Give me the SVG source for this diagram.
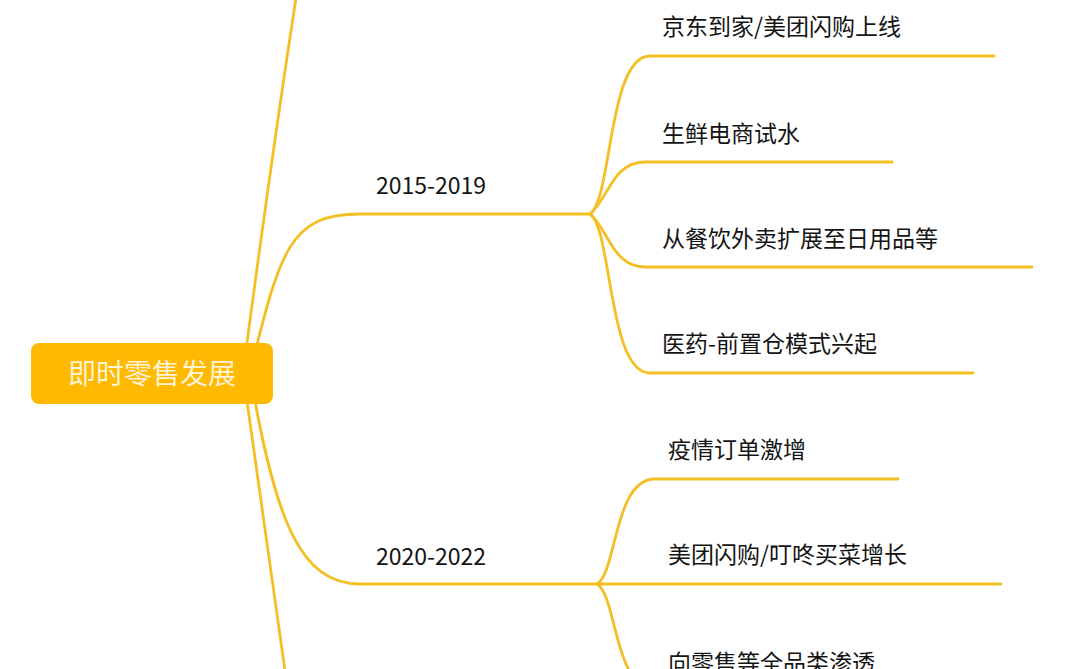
<svg xmlns="http://www.w3.org/2000/svg" width="1080" height="669" viewBox="0 0 1080 669">
<style>
.c{fill:none;stroke:#F4BF22;stroke-width:2.8;stroke-linecap:round}
.t{font-family:"Noto Sans CJK SC","Noto Sans",sans-serif;font-size:23px;fill:#141414}
.r{font-family:"Noto Sans CJK SC","Noto Sans",sans-serif;font-size:28px;fill:#FFF3D6}
</style>
<rect width="1080" height="669" fill="#FFFFFF"/>
<g id="connectors">
<path class="c" d="M243 373 C250 320 275 130 305 -60"/>
<path class="c" d="M243 373 C255 460 275 600 292 720"/>
<path class="c" d="M250 373 C280 250 290 214 360 214 L590 214"/>
<path class="c" d="M250 373 C275 520 300 584 360 584 L597 584"/>
<path class="c" d="M590 214 C612 200 608 56 650 56 L994 56"/>
<path class="c" d="M590 214 C608 200 612 162 645 162 L892 162"/>
<path class="c" d="M590 214 C608 228 612 267 645 267 L1032 267"/>
<path class="c" d="M590 214 C612 228 608 373 650 373 L973 373"/>
<path class="c" d="M597 584 C617 572 614 479 655 479 L898 479"/>
<path class="c" d="M597 584 L1001 584"/>
<path class="c" d="M597 584 C617 596 614 689 655 689 L900 689"/>
</g>
<g id="root">
<rect x="31" y="343" width="242" height="61" rx="8" fill="#FFB900"/>
<text class="r" x="152" y="384" text-anchor="middle">即时零售发展</text>
</g>
<g id="n2015"><text class="t" x="376" y="194">2015-2019</text></g>
<g id="n2020"><text class="t" x="376" y="565">2020-2022</text></g>
<g id="a1"><text class="t" x="662" y="35">京东到家/美团闪购上线</text></g>
<g id="a2"><text class="t" x="662" y="142">生鲜电商试水</text></g>
<g id="a3"><text class="t" x="662" y="247">从餐饮外卖扩展至日用品等</text></g>
<g id="a4"><text class="t" x="662" y="352">医药-前置仓模式兴起</text></g>
<g id="b1"><text class="t" x="668" y="458">疫情订单激增</text></g>
<g id="b2"><text class="t" x="668" y="563">美团闪购/叮咚买菜增长</text></g>
<g id="b3"><text class="t" x="668" y="671">向零售等全品类渗透</text></g>
</svg>
